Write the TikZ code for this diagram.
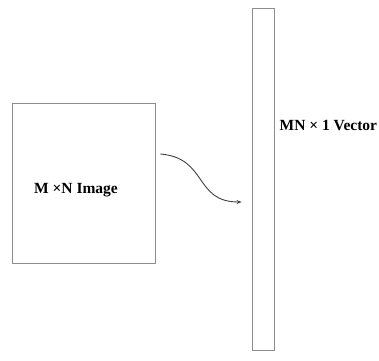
\documentclass[tikz,border=0pt]{standalone}
\usepackage{fontspec}
\setmainfont{Liberation Serif}
\usepackage{tikz}
\usetikzlibrary{arrows.meta,positioning}

\begin{document}
\begin{tikzpicture}[
  x=1pt,y=-1pt,
  box/.style={draw=black!45,line width=0.9pt,inner sep=0pt,fill=white},
  lbl/.style={font=\fontsize{15.5}{17}\selectfont\bfseries,inner sep=0pt},
  arrow/.style={-{Stealth[length=5pt,width=4pt]},draw=black!75,line width=0.9pt}
]
\useasboundingbox (0,0) rectangle (379,360);
\node[box,minimum width=143pt,minimum height=160pt] (img) at (83.5,183) {};
\node[lbl] (imglabel) at (76,190) {M ×N Image};
\node[box,minimum width=22pt,minimum height=342pt] (vec) at (263,179) {};
\node[lbl,anchor=west] (veclabel) at (279.5,125) {MN × 1 Vector};
\coordinate (from) at ([xshift=5pt,yshift=29pt]img.east);
\coordinate (to) at ([xshift=-10pt,yshift=-23pt]vec.west);
\draw[arrow] (from) to[out=-5,in=180,looseness=1.3] (to);
\end{tikzpicture}
\end{document}
